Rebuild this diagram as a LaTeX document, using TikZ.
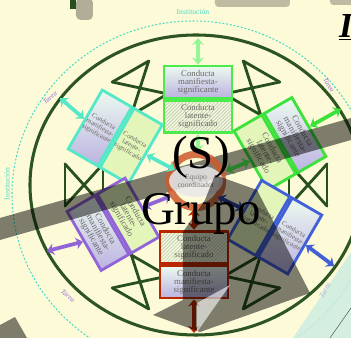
\documentclass[tikz,border=0pt]{standalone}
\usepackage{fontspec}
\setmainfont{Liberation Serif}
\usetikzlibrary{arrows.meta, positioning, shapes.geometric, patterns}

\definecolor{bgcream}{RGB}{253,250,215}
\definecolor{ringgreen}{RGB}{45,85,35}
\definecolor{instcyan}{RGB}{70,220,200}
\definecolor{tareapurple}{RGB}{150,110,220}
\definecolor{txtgrey}{RGB}{105,105,100}
\definecolor{manitop}{RGB}{236,250,240}
\definecolor{manibot}{RGB}{188,178,225}
\definecolor{latfill}{RGB}{228,245,185}
\definecolor{topgreen}{RGB}{75,235,75}
\definecolor{topgreenlt}{RGB}{150,245,150}
\definecolor{ulturq}{RGB}{85,232,200}
\definecolor{urgreen}{RGB}{60,225,60}
\definecolor{urgreendk}{RGB}{40,130,40}
\definecolor{llpurple}{RGB}{145,100,215}
\definecolor{lrblue}{RGB}{65,95,215}
\definecolor{lrbluedk}{RGB}{45,65,160}
\definecolor{botred}{RGB}{185,40,0}
\definecolor{coordorange}{RGB}{205,90,45}
\definecolor{xgreen}{RGB}{40,80,30}
\definecolor{wedgecyan}{RGB}{205,236,226}

\begin{document}
\begin{tikzpicture}[x=0.03cm, y=0.03cm,
    manif/.style={rectangle, draw=#1, line width=2.4pt, top color=manitop, bottom color=manibot, inner sep=1pt, align=center, text=txtgrey, font=\fontsize{7.5}{6.8}\selectfont},
    latent/.style={rectangle, draw=#1, line width=2.4pt, fill=latfill, inner sep=1pt, align=center, text=txtgrey, font=\fontsize{7.5}{6.8}\selectfont},
    hlatent/.style={rectangle, draw=#1, line width=2.4pt, preaction={fill=latfill!60!white}, pattern=north east lines, pattern color=txtgrey!45, inner sep=1pt, align=center, text=txtgrey, font=\fontsize{7.5}{6.8}\selectfont},
    wide/.style={minimum width=2.04cm, minimum height=0.96cm},
    tall/.style={minimum width=0.96cm, minimum height=2.04cm, font=\fontsize{5.8}{6}\selectfont},
    fatarrow/.style={draw=#1, line width=3.2pt, {Stealth[length=6pt,width=10pt]}-{Stealth[length=6pt,width=10pt]}},
    xline/.style={draw=xgreen, line width=2.4pt, line cap=round},
    tarea/.style={text=tareapurple, font=\fontsize{6}{6}\selectfont\itshape},
    inst/.style={text=instcyan, font=\fontsize{6.5}{6.5}\selectfont}
]
    \useasboundingbox (0,0) rectangle (351,338);
    \fill[bgcream] (0,0) rectangle (351,338);

    % top of the slide, cut off
    \fill[black, opacity=0.3, rounded corners=4pt] (76,318) rectangle (93,340);
    \fill[xgreen] (70,329) rectangle (76,340);
    \fill[black, opacity=0.25, rounded corners=3pt] (215,331) rectangle (290,342);
    \fill[black, opacity=0.25, rounded corners=3pt] (330,333) rectangle (355,342);
    \node[anchor=base west, inner sep=0pt, font=\fontsize{30}{30}\selectfont\bfseries\itshape] (titel) at (339,300) {\underline{I}};

    % Institucion / Tarea
    \draw[instcyan, line width=0.9pt, dash pattern=on 1.6pt off 1.6pt] (193,143) ellipse [x radius=5.43cm, y radius=5.22cm];
    \node[inst] (instTop) at (193,326) {Institución};
    \node[inst, rotate=90] (instLeft) at (7,154) {Institución};
    \node[tarea, rotate=40] (tareaUL) at (50,240) {Tarea};
    \node[tarea, rotate=-60] (tareaUR) at (329,253) {Tarea};
    \node[tarea, rotate=-40] (tareaLL) at (68,42) {Tarea};

    % Grupo circle
    \draw[ringgreen, line width=2.6pt] (196,153) ellipse [x radius=4.98cm, y radius=4.5cm];

    % links between neighbours
    \foreach \a in {0,60,...,300}{
        \begin{scope}[shift={(196,153)}, rotate=\a]
            \draw[xline] (93,-21) -- (93,21);
            \draw[xline] (131,-21) -- (131,21);
            \draw[xline] (93,-21) -- (131,21);
            \draw[xline] (93,21) -- (131,-21);
        \end{scope}
    }

    % Members
    \node[manif=topgreen, wide] (topM) at (198,256) {Conducta\\manifiesta-\\significante};
    \node[hlatent=topgreen, wide, anchor=north] (topL) at (topM.south) {Conducta\\latente-\\significado};

    \node[manif=ulturq, tall, rotate=-30] (ulM) at (100,210) {Conducta\\manifiesta-\\significante};
    \node[latent=ulturq, tall, rotate=-30, anchor=west] (ulL) at (ulM.east) {Conducta\\latente-\\significado};

    \node[manif=urgreen, wide, rotate=-60] (urM) at (295,203) {Conducta\\manifiesta-\\significante};
    \node[latent=urgreen, wide, rotate=-60, anchor=north] (urL) at (urM.south) {Conducta\\latente-\\significado};

    \node[manif=llpurple, wide, rotate=-60] (llM) at (98,105) {Conducta\\manifiesta-\\significante};
    \node[latent=llpurple, wide, rotate=-60, anchor=south] (llL) at (llM.north) {Conducta\\latente-\\significado};

    \node[manif=lrblue, tall, rotate=-30] (lrM) at (290,102) {Conducta\\manifiesta-\\significante};
    \node[latent=lrblue, tall, rotate=-30, anchor=east] (lrL) at (lrM.west) {Conducta\\latente-\\significado};

    \node[manif=botred, wide] (botM) at (194,56) {Conducta\\manifiesta-\\significante};
    \node[hlatent=botred, wide, anchor=south] (botL) at (botM.north) {Conducta\\latente-\\significado};

    % arrow ends
    \coordinate (topO) at (198,300);
    \coordinate (ulO) at (60,240);
    \coordinate (urO) at (341,229);
    \coordinate (llO) at (47,87);
    \coordinate (lrO) at (334,72);
    \coordinate (botO) at (194,5);
    \coordinate (topI) at (198,186);
    \coordinate (ulI) at (175,168);
    \coordinate (urI) at (226,167);
    \coordinate (llI) at (171,142);
    \coordinate (lrI) at (218,141);
    \coordinate (botI) at (194,129);
    \coordinate (coord) at (196,157);

    % band
    \fill[black, opacity=0.5] (0,120) -- (351,220) -- (351,198) -- (0,98) -- cycle;

    % Equipo coordinador
    \draw[coordorange, line width=6pt, opacity=0.85] (coord) circle [radius=0.8cm];
    \node[ellipse, fill=white!82!gray, fill opacity=0.85, minimum width=1.62cm, minimum height=0.96cm, inner sep=0pt, align=center, text=txtgrey, font=\fontsize{6.5}{6.5}\selectfont] (equipo) at (coord) {Equipo\\coordinador};

    % Arrows
    \draw[fatarrow=topgreenlt] (topM.north) -- (topO);
    \draw[fatarrow=ulturq] (ulM.west) -- (ulO);
    \draw[fatarrow=urgreen] (urM.north) -- (urO);
    \draw[fatarrow=llpurple] (llM.south) -- (llO);
    \draw[fatarrow=lrblue] (lrM.east) -- (lrO);
    \draw[fatarrow=botred] (botM.south) -- (botO);
    \draw[fatarrow=topgreenlt] (topL.south) -- (topI);
    \draw[fatarrow=ulturq] (ulL.east) -- (ulI);
    \draw[fatarrow=urgreendk] (urL.south) -- (urI);
    \draw[fatarrow=llpurple] (llL.north) -- (llI);
    \draw[fatarrow=lrbluedk] (lrL.west) -- (lrI);
    \draw[fatarrow=botred] (botL.north) -- (botI);

    % shadows over the slide
    \fill[black, opacity=0.5] (215,163) -- (257,148) -- (310,45) -- (200,6) -- (153,23) -- (183,38) -- (183,106) -- (205,138) -- cycle;
    \fill[white, opacity=0.6] (230,53) -- (197,35) -- (197,6) -- cycle;
    \fill[black, opacity=0.5] (0,13) -- (15,21) -- (27,0) -- (0,0) -- cycle;
    \fill[wedgecyan, opacity=0.85] (293,0) -- (351,86) -- (351,0) -- cycle;
    \node[tarea, rotate=60, text=lrblue!40!wedgecyan] (tareaLR) at (325,48) {Tarea};
    \draw[black!70, line width=0.4pt] (330,0) -- (351,30);

    % title
    \node[inner sep=0pt, align=center, font=\fontsize{40}{48}\selectfont] (grupo) at (201,153) {(S)\\Grupo};
\end{tikzpicture}
\end{document}
